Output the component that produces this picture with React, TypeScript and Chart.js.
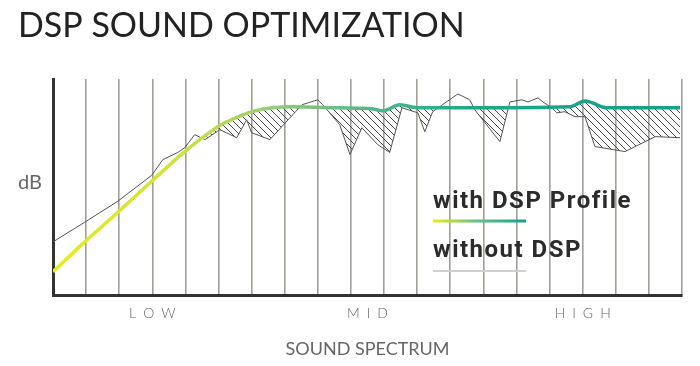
import { useEffect, useRef } from 'react';
import { Chart, registerables } from 'chart.js';

Chart.register(...registerables);

// ---- data ----
const withDspX = [0, 0.96, 1.96, 2.98, 3.98, 4.98, 5.19, 6.10, 7.22, 8.66, 9.66, 9.97, 10.48, 10.99, 12.29, 15.62, 16.07, 16.73, 18.94];
const withDspY = [11.0, 24.8, 38.5, 52.8, 66.5, 78.0, 79.8, 85.3, 87.2, 86.7, 86.2, 85.3, 88.1, 86.7, 86.7, 87.2, 89.9, 86.7, 86.7];

const withoutDspX = [0, 0.96, 1.96, 2.98, 3.32, 3.77, 3.98, 4.28, 4.59, 5.04, 5.55, 5.85, 6.00, 6.55, 7.52, 8.00, 8.15, 8.66, 8.97, 9.33, 9.81, 10.17, 10.54, 11.02, 11.23, 11.47, 11.68, 12.23, 12.59, 12.74, 13.50, 13.80, 14.16, 14.35, 14.65, 14.80, 15.07, 15.22, 15.46, 15.77, 16.07, 16.37, 17.28, 18.19, 18.94];
const withoutDspY = [24.8, 33.9, 43.6, 55.5, 62.8, 66.1, 68.3, 74.3, 72.0, 76.6, 72.9, 81.2, 75.2, 72.0, 88.1, 90.4, 88.1, 78.9, 65.1, 77.5, 69.7, 66.1, 86.7, 84.4, 75.7, 84.9, 87.2, 93.1, 90.4, 85.8, 71.1, 89.4, 90.4, 89.4, 91.3, 89.4, 86.7, 84.4, 84.9, 82.6, 82.6, 68.8, 66.5, 73.4, 72.9];

const gridCount = 19;
const bandPositions = [3, 9.5, 16];
const bandLabels = ['L\u2002O\u2002W', 'M\u2002I\u2002D', 'H\u2002I\u2002G\u2002H'];
const titleText = 'DSP SOUND OPTIMIZATION';
const yAxisLabel = 'dB';
const xAxisTitle = 'SOUND SPECTRUM';
const legendLabels = ['with DSP Profile', 'without DSP'];

const GRAD_STOPS: [number, string][] = [
  [0, '#e8ec1a'],
  [0.2, '#cfe23a'],
  [0.33, '#9ccf74'],
  [0.5, '#52b98a'],
  [0.66, '#22a68a'],
  [1, '#14a08b'],
];

export default function App() {
  const ref = useRef<HTMLCanvasElement | null>(null);

  useEffect(() => {
    const canvas = ref.current!;
    const ctx = canvas.getContext('2d')!;

    const tile = document.createElement('canvas');
    tile.width = 7;
    tile.height = 7;
    const tg = tile.getContext('2d')!;
    tg.strokeStyle = '#4a4a4a';
    tg.lineWidth = 1;
    tg.beginPath();
    tg.moveTo(-1, -1);
    tg.lineTo(8, 8);
    tg.moveTo(-1, 6);
    tg.lineTo(1, 8);
    tg.moveTo(6, -1);
    tg.lineTo(8, 1);
    tg.stroke();
    const hatch = ctx.createPattern(tile, 'repeat')!;

    const lineGradient = (chart: any) => {
      const area = chart.chartArea;
      if (!area) return '#14a08b';
      const g = chart.ctx.createLinearGradient(area.left, 0, area.right, 0);
      GRAD_STOPS.forEach(([o, c]) => g.addColorStop(o, c));
      return g;
    };

    const textPlugin = {
      id: 'texts',
      afterDraw(chart: any) {
        const c = chart.ctx;
        c.save();
        c.textAlign = 'left';
        c.textBaseline = 'alphabetic';
        c.fillStyle = '#222';
        c.font = '400 34px Lato';
        c.fillText(titleText, 18, 37);

        c.fillStyle = '#666';
        c.font = '400 20px Lato';
        c.fillText(yAxisLabel, 18, 189);

        c.fillStyle = '#2b2b2b';
        c.font = '700 24px Roboto';
        (c as any).letterSpacing = '1.5px';
        c.fillText(legendLabels[0], 433, 208);
        c.fillText(legendLabels[1], 433, 257);
        (c as any).letterSpacing = '0px';

        const lg = c.createLinearGradient(433, 0, 526, 0);
        lg.addColorStop(0, '#e8ec1a');
        lg.addColorStop(0.45, '#6cc27f');
        lg.addColorStop(1, '#14a08b');
        c.strokeStyle = lg;
        c.lineWidth = 3;
        c.beginPath();
        c.moveTo(433, 221);
        c.lineTo(526, 221);
        c.stroke();

        c.strokeStyle = '#cfcfcf';
        c.lineWidth = 2;
        c.beginPath();
        c.moveTo(433, 271);
        c.lineTo(526, 271);
        c.stroke();
        c.restore();
      },
    };

    const chart = new Chart(ctx, {
      type: 'line',
      data: {
        datasets: [
          {
            label: legendLabels[0],
            data: withDspX.map((x, i) => ({ x, y: withDspY[i] })),
            borderColor: (c: any) => lineGradient(c.chart),
            borderWidth: 3.5,
            pointRadius: 0,
            cubicInterpolationMode: 'monotone',
            fill: false,
          },
          {
            label: legendLabels[1],
            data: withoutDspX.map((x, i) => ({ x, y: withoutDspY[i] })),
            borderColor: '#555',
            borderWidth: 1,
            pointRadius: 0,
            tension: 0,
            fill: { target: 0, above: 'rgba(0,0,0,0)', below: hatch },
          },
        ],
      } as any,
      options: {
        responsive: false,
        animation: false,
        devicePixelRatio: 1,
        layout: { padding: { left: 53, right: 18, top: 79, bottom: 6 } },
        plugins: { legend: { display: false }, tooltip: { enabled: false }, title: { display: false } },
        scales: {
          x: {
            type: 'linear',
            min: 0,
            max: gridCount,
            afterBuildTicks: (s: any) => {
              const vals: number[] = [];
              for (let i = 0; i <= gridCount; i++) vals.push(i);
              bandPositions.forEach((v) => { if (!vals.includes(v)) vals.push(v); });
              vals.sort((a, b) => a - b);
              s.ticks = vals.map((value) => ({ value }));
            },
            ticks: {
              autoSkip: false,
              maxRotation: 0,
              padding: 9,
              color: '#666',
              font: { family: 'Lato', size: 14, weight: '300' },
              callback: (v: any) => {
                const idx = bandPositions.indexOf(Number(v));
                return idx >= 0 ? bandLabels[idx] : '';
              },
            },
            grid: {
              drawTicks: false,
              lineWidth: 1.6,
              color: (c: any) => (c.tick && c.tick.value % 1 === 0 ? '#a39e98' : 'rgba(0,0,0,0)'),
            },
            border: { display: true, color: '#333', width: 3 },
            title: {
              display: true,
              text: xAxisTitle,
              color: '#666',
              font: { family: 'Lato', size: 18, weight: '400' },
              padding: { top: 8, bottom: 0 },
            },
          },
          y: {
            type: 'linear',
            min: 0,
            max: 100,
            ticks: { display: false },
            grid: { display: false, drawTicks: false },
            border: { display: true, color: '#333', width: 3 },
          },
        },
      } as any,
      plugins: [textPlugin],
    });

    return () => chart.destroy();
  }, []);

  return (
    <div style={{ position: 'absolute', left: 0, top: 0, width: 700, height: 366, background: '#fff' }}>
      <canvas ref={ref} width={700} height={366} style={{ display: 'block' }} />
    </div>
  );
}
